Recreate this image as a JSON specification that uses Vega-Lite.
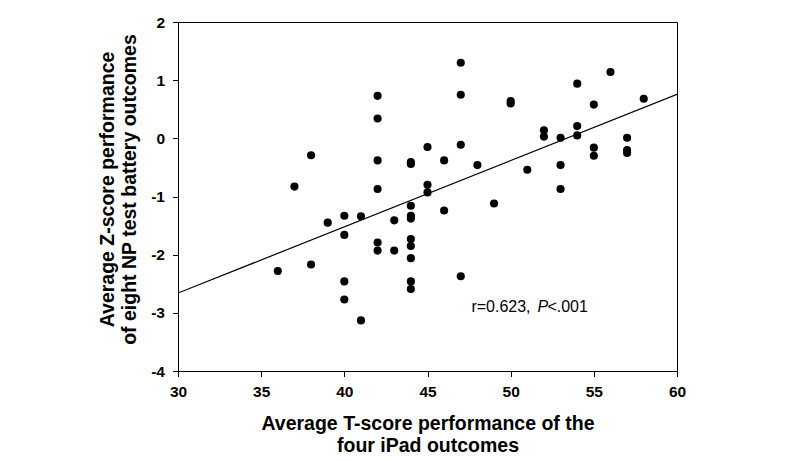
{
  "$schema": "https://vega.github.io/schema/vega-lite/v6.json",
  "autosize": "none",
  "width": 499,
  "height": 349,
  "padding": {"left": 178, "top": 22, "right": 123, "bottom": 90},
  "background": "white",
  "config": {
    "view": {"stroke": "black", "strokeWidth": 1},
    "font": "Liberation Sans"
  },
  "datasets": {
    "points": [
      {"t": 36, "z": -2.28}, {"t": 37, "z": -0.83}, {"t": 38, "z": -0.29}, {"t": 38, "z": -2.17},
      {"t": 39, "z": -1.45}, {"t": 40, "z": -1.33}, {"t": 40, "z": -1.66}, {"t": 40, "z": -2.46},
      {"t": 40, "z": -2.77}, {"t": 41, "z": -1.34}, {"t": 41, "z": -3.13}, {"t": 42, "z": 0.73},
      {"t": 42, "z": 0.34}, {"t": 42, "z": -0.38}, {"t": 42, "z": -0.87}, {"t": 42, "z": -1.79},
      {"t": 42, "z": -1.93}, {"t": 43, "z": -1.41}, {"t": 43, "z": -1.93}, {"t": 44, "z": -0.41},
      {"t": 44, "z": -0.44}, {"t": 44, "z": -1.16}, {"t": 44, "z": -1.33}, {"t": 44, "z": -1.38},
      {"t": 44, "z": -1.73}, {"t": 44, "z": -1.85}, {"t": 44, "z": -2.06}, {"t": 44, "z": -2.46},
      {"t": 44, "z": -2.59}, {"t": 45, "z": -0.15}, {"t": 45, "z": -0.80}, {"t": 45, "z": -0.93},
      {"t": 46, "z": -0.38}, {"t": 46, "z": -1.24}, {"t": 47, "z": 1.30}, {"t": 47, "z": 0.75},
      {"t": 47, "z": -0.11}, {"t": 47, "z": -2.37}, {"t": 48, "z": -0.46}, {"t": 49, "z": -1.12},
      {"t": 50, "z": 0.60}, {"t": 50, "z": 0.64}, {"t": 51, "z": -0.54}, {"t": 52, "z": 0.14},
      {"t": 52, "z": 0.03}, {"t": 53, "z": 0.01}, {"t": 53, "z": -0.46}, {"t": 53, "z": -0.87},
      {"t": 54, "z": 0.94}, {"t": 54, "z": 0.21}, {"t": 54, "z": 0.05}, {"t": 55, "z": 0.58},
      {"t": 55, "z": -0.16}, {"t": 55, "z": -0.30}, {"t": 56, "z": 1.14}, {"t": 57, "z": 0.01},
      {"t": 57, "z": -0.20}, {"t": 57, "z": -0.25}, {"t": 58, "z": 0.68}
    ],
    "fit": [
      {"t": 30, "z": -2.66},
      {"t": 60, "z": 0.755}
    ],
    "note": [
      {"t": 47.64, "z": -2.99}
    ]
  },
  "layer": [
    {
      "data": {"name": "fit"},
      "mark": {"type": "line", "color": "black", "strokeWidth": 1.2, "clip": true},
      "encoding": {
        "x": {
          "field": "t", "type": "quantitative",
          "scale": {"domain": [30, 60], "nice": false, "zero": false},
          "axis": {
            "values": [30, 35, 40, 45, 50, 55, 60],
            "labelExpr": "'' + datum.value",
            "title": ["Average T-score performance of the", "four iPad outcomes"],
            "titleFont": "Liberation Sans", "titleFontSize": 19.5, "titleFontWeight": "bold",
            "titleColor": "black", "titlePadding": 14, "titleLineHeight": 22,
            "labelFont": "Liberation Sans", "labelFontSize": 15.5, "labelFontWeight": "bold",
            "labelColor": "black", "labelPadding": 8,
            "tickSize": 5.5, "tickColor": "black", "domainColor": "black",
            "grid": false, "labelFlush": false
          }
        },
        "y": {
          "field": "z", "type": "quantitative",
          "scale": {"domain": [-4, 2], "nice": false, "zero": false},
          "axis": {
            "values": [-4, -3, -2, -1, 0, 1, 2],
            "labelExpr": "'' + datum.value",
            "title": ["Average Z-score performance", "of eight NP test battery outcomes"],
            "titleFont": "Liberation Sans", "titleFontSize": 19.5, "titleFontWeight": "bold",
            "titleColor": "black", "titlePadding": 11, "titleLineHeight": 22, "titleY": 167,
            "labelFont": "Liberation Sans", "labelFontSize": 15.5, "labelFontWeight": "bold",
            "labelColor": "black", "labelPadding": 8,
            "tickSize": 5.5, "tickColor": "black", "domainColor": "black",
            "grid": false, "labelFlush": false
          }
        }
      }
    },
    {
      "data": {"name": "points"},
      "mark": {"type": "circle", "color": "black", "opacity": 1, "size": 66},
      "encoding": {
        "x": {"field": "t", "type": "quantitative"},
        "y": {"field": "z", "type": "quantitative"}
      }
    },
    {
      "data": {"name": "note"},
      "mark": {"type": "text", "text": "r=0.623,", "align": "left", "baseline": "alphabetic", "font": "Liberation Sans", "fontSize": 16, "color": "black"},
      "encoding": {
        "x": {"field": "t", "type": "quantitative"},
        "y": {"field": "z", "type": "quantitative"}
      }
    },
    {
      "data": {"name": "note"},
      "mark": {"type": "text", "text": "P", "align": "left", "baseline": "alphabetic", "font": "Liberation Sans", "fontSize": 16, "fontStyle": "italic", "color": "black", "dx": 66},
      "encoding": {
        "x": {"field": "t", "type": "quantitative"},
        "y": {"field": "z", "type": "quantitative"}
      }
    },
    {
      "data": {"name": "note"},
      "mark": {"type": "text", "text": "<.001", "align": "left", "baseline": "alphabetic", "font": "Liberation Sans", "fontSize": 16, "color": "black", "dx": 76},
      "encoding": {
        "x": {"field": "t", "type": "quantitative"},
        "y": {"field": "z", "type": "quantitative"}
      }
    }
  ]
}
